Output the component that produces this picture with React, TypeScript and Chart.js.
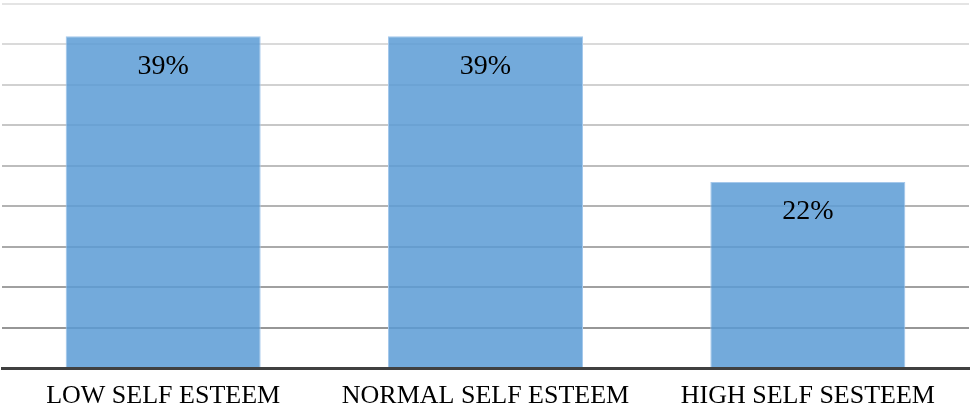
import React, { useEffect, useRef } from "react";
import { Chart, registerables } from "chart.js";

Chart.register(...registerables);

const categories = ["LOW SELF ESTEEM", "NORMAL SELF ESTEEM", "HIGH SELF SESTEEM"];
const counts = [41, 41, 23];
const percentLabels = ["39%", "39%", "22%"];
const yMax = 45;
const yStep = 5;

const SERIF = '"Liberation Serif", "Times New Roman", serif';

const dataLabelPlugin = {
  id: "dataLabelPlugin",
  afterDatasetsDraw(chart: any) {
    const ctx = chart.ctx;
    const meta = chart.getDatasetMeta(0);
    ctx.save();
    ctx.fillStyle = "#000";
    ctx.font = `28px ${SERIF}`;
    ctx.textAlign = "center";
    ctx.textBaseline = "middle";
    meta.data.forEach((el: any, i: number) => {
      ctx.fillText(percentLabels[i], el.x, el.y + 30);
    });
    ctx.restore();
  },
};

export default function App() {
  const ref = useRef<HTMLCanvasElement | null>(null);
  useEffect(() => {
    if (!ref.current) return;
    const chart = new Chart(ref.current, {
      type: "bar",
      data: {
        labels: categories,
        datasets: [
          {
            data: counts,
            backgroundColor: "rgba(91,155,213,0.85)",
            borderColor: "rgba(165,200,235,1)",
            borderWidth: { left: 1, right: 1, top: 1, bottom: 0 },
            categoryPercentage: 0.605,
            barPercentage: 1,
          },
        ],
      },
      options: {
        animation: false,
        responsive: true,
        maintainAspectRatio: false,
        layout: { padding: { left: 2, right: 4, top: 4, bottom: 0 } },
        plugins: { legend: { display: false }, tooltip: { enabled: false } },
        scales: {
          x: {
            grid: { display: false, drawTicks: false },
            border: { display: true, color: "#404040", width: 3 },
            ticks: {
              color: "#000",
              font: { family: SERIF, size: 26 },
              padding: 13,
              maxRotation: 0,
            },
            afterFit: (axis: any) => {
              axis.height = 43;
            },
          },
          y: {
            min: 0,
            max: yMax,
            ticks: { display: false, stepSize: yStep },
            border: { display: false },
            grid: {
              drawTicks: false,
              lineWidth: 2,
              color: (c: any) => {
                const i = c.index ?? 0;
                const g = Math.round(150 + ((i - 1) * (228 - 150)) / 8);
                return `rgb(${g},${g},${g})`;
              },
            },
          },
        },
      },
      plugins: [dataLabelPlugin],
    });
    return () => chart.destroy();
  }, []);
  return (
    <div style={{ position: "fixed", left: 0, top: 0, width: 973, height: 411, background: "#fff" }}>
      <canvas ref={ref} />
    </div>
  );
}
